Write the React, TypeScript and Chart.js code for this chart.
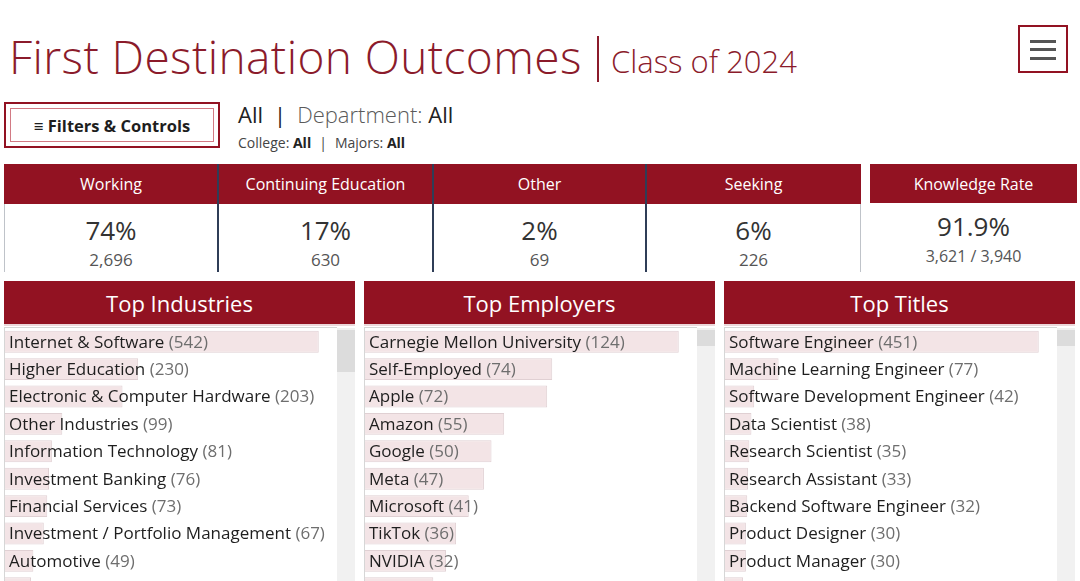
import React, { useEffect, useRef } from "react";
import { Chart, registerables } from "chart.js";

Chart.register(...registerables);

const FONT = '"Open Sans", "Noto Sans", sans-serif';
const RED = "#921222";
const TITLE_RED = "#8b1b2b";

// KPI tiles
const kpiLabels = ["Working", "Continuing Education", "Other", "Seeking"];
const kpiPercents = ["74%", "17%", "2%", "6%"];
const kpiCounts = ["2,696", "630", "69", "226"];
const knowledgeRate = "91.9%";
const knowledgeCounts = "3,621 / 3,940";

// Top Industries
const industryLabels = [
  "Internet & Software",
  "Higher Education",
  "Electronic & Computer Hardware",
  "Other Industries",
  "Information Technology",
  "Investment Banking",
  "Financial Services",
  "Investment / Portfolio Management",
  "Automotive",
  "Consulting",
];
const industryValues = [542, 230, 203, 99, 81, 76, 73, 67, 49, 45];

// Top Employers
const employerLabels = [
  "Carnegie Mellon University",
  "Self-Employed",
  "Apple",
  "Amazon",
  "Google",
  "Meta",
  "Microsoft",
  "TikTok",
  "NVIDIA",
  "Amazon Web Services",
];
const employerValues = [124, 74, 72, 55, 50, 47, 41, 36, 32, 27];

// Top Titles
const titleLabels = [
  "Software Engineer",
  "Machine Learning Engineer",
  "Software Development Engineer",
  "Data Scientist",
  "Research Scientist",
  "Research Assistant",
  "Backend Software Engineer",
  "Product Designer",
  "Product Manager",
  "Data Analyst",
];
const titleValues = [451, 77, 42, 38, 35, 33, 32, 30, 30, 26];

function BarList({ labels, values }: { labels: string[]; values: number[] }) {
  const ref = useRef<HTMLCanvasElement>(null);
  useEffect(() => {
    const max = Math.max(...values);
    const labelPlugin = {
      id: "rowLabels",
      afterDatasetsDraw(chart: any) {
        const ctx = chart.ctx;
        const meta = chart.getDatasetMeta(0);
        const x0 = chart.scales.x.getPixelForValue(0) + 4;
        ctx.save();
        ctx.textBaseline = "middle";
        ctx.textAlign = "left";
        meta.data.forEach((bar: any, i: number) => {
          const y = bar.y + 1;
          ctx.font = `17px ${FONT}`;
          ctx.fillStyle = "#1e1e1e";
          const name = labels[i];
          ctx.fillText(name, x0, y);
          const w = ctx.measureText(name + " ").width;
          ctx.fillStyle = "#6e6e6e";
          ctx.fillText("(" + values[i] + ")", x0 + w, y);
        });
        ctx.restore();
      },
    };
    const chart = new Chart(ref.current as HTMLCanvasElement, {
      type: "bar",
      data: {
        labels,
        datasets: [
          {
            data: values,
            backgroundColor: "#f3e4e6",
            borderColor: "#e0d0d3",
            borderWidth: 1,
            barPercentage: 0.8,
            categoryPercentage: 1,
          },
        ],
      },
      options: {
        indexAxis: "y",
        animation: false,
        responsive: false,
        maintainAspectRatio: false,
        layout: { padding: 0 },
        plugins: { legend: { display: false }, tooltip: { enabled: false } },
        scales: {
          x: { display: false, min: 0, max: max * 1.055 },
          y: { display: false },
        },
      },
      plugins: [labelPlugin],
    });
    return () => chart.destroy();
  }, []);
  return <canvas ref={ref} width={331} height={274} style={{ display: "block" }} />;
}

function Panel({
  left,
  title,
  labels,
  values,
  thumb,
}: {
  left: number;
  title: string;
  labels: string[];
  values: number[];
  thumb: number;
}) {
  return (
    <>
      <div
        style={{
          position: "absolute",
          left,
          top: 281,
          width: 351,
          height: 43,
          background: RED,
          color: "#fff",
          fontFamily: FONT,
          fontSize: 22,
          display: "flex",
          alignItems: "center",
          justifyContent: "center",
          borderBottom: "2px solid #ecd6d9",
        }}
      >
        {title}
      </div>
      <div
        style={{
          position: "absolute",
          left,
          top: 327,
          width: 332,
          height: 260,
          borderTop: "1px solid #d6d6d6",
          borderLeft: "1px solid #d6d6d6",
          overflow: "hidden",
          background: "#fff",
        }}
      >
        <BarList labels={labels} values={values} />
      </div>
      <div
        style={{
          position: "absolute",
          left: left + 333,
          top: 328,
          width: 18,
          height: 260,
          background: "#f1f1f1",
        }}
      >
        <div style={{ position: "absolute", left: 0, top: 2, width: 18, height: thumb, background: "#dcdcdc" }} />
      </div>
    </>
  );
}

export default function App() {
  const colEdges = [4, 218, 433, 646, 861];
  return (
    <div
      style={{
        position: "fixed",
        left: 0,
        top: 0,
        width: 1080,
        height: 581,
        overflow: "hidden",
        background: "#fff",
        fontFamily: FONT,
      }}
    >
      {/* Title */}
      <div
        style={{
          position: "absolute",
          left: 9,
          top: 24,
          fontFamily: FONT,
          fontWeight: 300,
          fontSize: 46,
          color: TITLE_RED,
          whiteSpace: "nowrap",
          lineHeight: "64px",
          letterSpacing: 0.4,
        }}
      >
        First Destination Outcomes
      </div>
      <div style={{ position: "absolute", left: 597, top: 36, width: 2, height: 46, background: TITLE_RED }} />
      <div
        style={{
          position: "absolute",
          left: 611,
          top: 39,
          fontFamily: FONT,
          fontWeight: 300,
          fontSize: 31,
          color: TITLE_RED,
          whiteSpace: "nowrap",
          lineHeight: "44px",
        }}
      >
        Class of 2024
      </div>

      {/* Hamburger */}
      <div
        style={{
          position: "absolute",
          left: 1018,
          top: 25,
          width: 46,
          height: 44,
          border: `2px solid ${RED}`,
          background: "#fff",
        }}
      >
        {[13, 21, 30].map((t) => (
          <div key={t} style={{ position: "absolute", left: 10, top: t, width: 26, height: 3, background: "#555" }} />
        ))}
      </div>

      {/* Filters button */}
      <div
        style={{
          position: "absolute",
          left: 4,
          top: 102,
          width: 212,
          height: 42,
          border: `2px solid ${RED}`,
          background: "#fff",
        }}
      >
        <div
          style={{
            position: "absolute",
            left: 4,
            top: 4,
            width: 202,
            height: 32,
            border: "1px solid #d27a84",
            display: "flex",
            alignItems: "center",
            justifyContent: "center",
            fontFamily: FONT,
            fontWeight: 700,
            fontSize: 16.5,
            color: "#1e1e1e",
            whiteSpace: "nowrap",
          }}
        >
          ≡ Filters &amp; Controls
        </div>
      </div>

      {/* Filter summary */}
      <div
        style={{
          position: "absolute",
          left: 238,
          top: 99,
          fontFamily: FONT,
          fontSize: 22,
          color: "#222",
          whiteSpace: "nowrap",
          lineHeight: "30px",
        }}
      >
        <span>All</span>
        <span style={{ margin: "0 11px" }}>|</span>
        <span style={{ color: "#5a5a5a", fontWeight: 300 }}>Department:</span>
        <span> All</span>
      </div>
      <div
        style={{
          position: "absolute",
          left: 238,
          top: 133,
          fontFamily: FONT,
          fontSize: 14,
          color: "#444",
          whiteSpace: "nowrap",
          lineHeight: "20px",
        }}
      >
        <span>College: </span>
        <b style={{ color: "#222" }}>All</b>
        <span style={{ margin: "0 8px" }}>|</span>
        <span>Majors: </span>
        <b style={{ color: "#222" }}>All</b>
      </div>

      {/* KPI tiles */}
      <div style={{ position: "absolute", left: 4, top: 164, width: 857, height: 40, background: RED }} />
      <div style={{ position: "absolute", left: 4, top: 204, width: 1, height: 68, background: "#bfc3c9" }} />
      <div style={{ position: "absolute", left: 860, top: 204, width: 1, height: 68, background: "#bfc3c9" }} />
      {[1, 2, 3].map((i) => (
        <div
          key={i}
          style={{
            position: "absolute",
            left: colEdges[i] - 1,
            top: 164,
            width: 1.5,
            height: 108,
            background: "#2f3d57",
          }}
        />
      ))}
      {kpiLabels.map((lab, i) => {
        const l = colEdges[i];
        const w = colEdges[i + 1] - colEdges[i];
        return (
          <React.Fragment key={lab}>
            <div
              style={{
                position: "absolute",
                left: l,
                width: w,
                top: 164,
                height: 40,
                display: "flex",
                alignItems: "center",
                justifyContent: "center",
                color: "#fff",
                fontSize: 16,
                whiteSpace: "nowrap",
              }}
            >
              {lab}
            </div>
            <div
              style={{
                position: "absolute",
                left: l,
                width: w,
                top: 213,
                height: 34,
                lineHeight: "34px",
                textAlign: "center",
                color: "#333",
                fontSize: 26,
              }}
            >
              {kpiPercents[i]}
            </div>
            <div
              style={{
                position: "absolute",
                left: l,
                width: w,
                top: 248,
                height: 24,
                lineHeight: "24px",
                textAlign: "center",
                color: "#555",
                fontSize: 17,
              }}
            >
              {kpiCounts[i]}
            </div>
          </React.Fragment>
        );
      })}

      {/* Knowledge rate */}
      <div
        style={{
          position: "absolute",
          left: 870,
          top: 164,
          width: 207,
          height: 39,
          background: RED,
          color: "#fff",
          fontSize: 16,
          display: "flex",
          alignItems: "center",
          justifyContent: "center",
        }}
      >
        Knowledge Rate
      </div>
      <div
        style={{
          position: "absolute",
          left: 870,
          width: 207,
          top: 209,
          height: 34,
          lineHeight: "34px",
          textAlign: "center",
          color: "#333",
          fontSize: 26,
        }}
      >
        {knowledgeRate}
      </div>
      <div
        style={{
          position: "absolute",
          left: 870,
          width: 207,
          top: 244,
          height: 24,
          lineHeight: "24px",
          textAlign: "center",
          color: "#555",
          fontSize: 16,
        }}
      >
        {knowledgeCounts}
      </div>

      {/* Bottom panels */}
      <Panel left={4} title="Top Industries" labels={industryLabels} values={industryValues} thumb={42} />
      <Panel left={364} title="Top Employers" labels={employerLabels} values={employerValues} thumb={16} />
      <Panel left={724} title="Top Titles" labels={titleLabels} values={titleValues} thumb={16} />
    </div>
  );
}
